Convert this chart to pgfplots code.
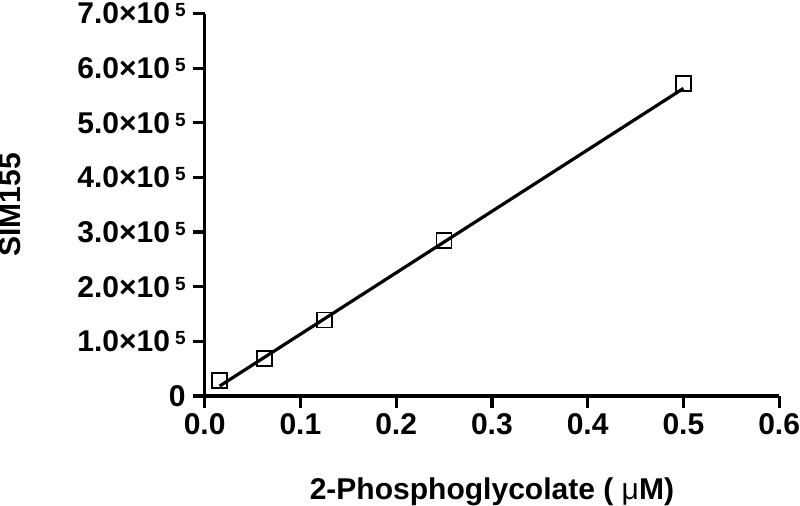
\documentclass[border=0pt]{standalone}
\usepackage{pgfplots}
\pgfplotsset{compat=1.18}
\usepackage{fontspec}
\setmainfont{Liberation Sans}
% y tick label: a.b x 10 with a small raised 5
\newcommand{\sci}[1]{#1×10\hspace{2.5pt}\raisebox{3.5pt}{\fontsize{9.5}{9.5}\selectfont 5}}
\begin{document}
\begin{tikzpicture}
\begin{axis}[
  scale only axis, width=287pt, height=191pt,
  xmin=0, xmax=0.6, ymin=0, ymax=700000,
  axis x line*=bottom, axis y line*=left,
  xtick={0,0.1,0.2,0.3,0.4,0.5,0.6},
  xticklabels={0.0,0.1,0.2,0.3,0.4,0.5,0.6},
  ytick={0,100000,200000,300000,400000,500000,600000,700000},
  yticklabels={0,\sci{1.0},\sci{2.0},\sci{3.0},\sci{4.0},\sci{5.0},\sci{6.0},\sci{7.0}},
  scaled y ticks=false,
  tick align=outside, major tick length=6pt,
  tick style={line width=1.6pt, black},
  axis line style={line width=1.6pt},
  every tick label/.append style={font=\bfseries\fontsize{15}{18}\selectfont},
  xticklabel style={inner xsep=0pt, inner ysep=2.8pt},
  yticklabel style={inner ysep=1.5pt},
  label style={font=\bfseries\fontsize{15}{18}\selectfont},
  xlabel={2-Phosphoglycolate ( {\mdseries μ}M)},
  ylabel={SIM155},
  xlabel style={at={(axis description cs:0.5,-0.212)}, anchor=north, inner sep=0pt},
  ylabel style={at={(axis description cs:-0.357,0.5)}, anchor=north, inner sep=0pt},
  clip=false,
]
\addplot[only marks, mark=square, mark size=3.75pt, mark options={line width=0.9pt, black}]
  coordinates {(0.015625,27500) (0.0625,68000) (0.125,139000) (0.25,284000) (0.5,572000)};
\addplot[black, line width=1.6pt] coordinates {(0.015625,18000) (0.5,563000)};
\end{axis}
\end{tikzpicture}
\end{document}
